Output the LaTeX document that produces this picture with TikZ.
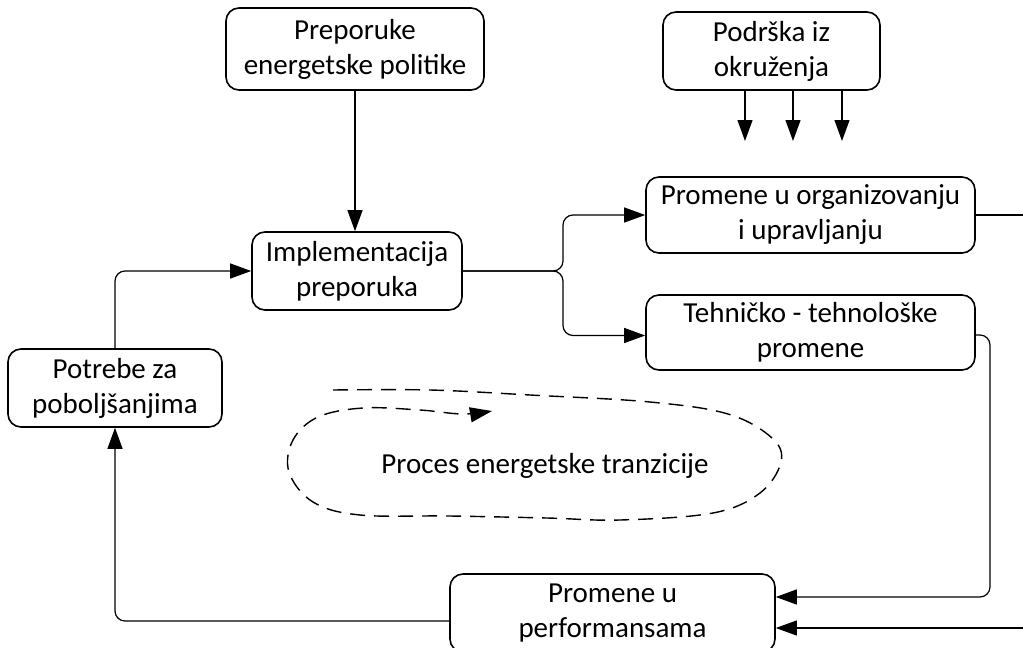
\documentclass[tikz,border=0pt]{standalone}
\usepackage{fontspec}
\setmainfont{Carlito}
\usetikzlibrary{arrows.meta}
\begin{document}
\begin{tikzpicture}[x=1pt,y=-1pt,
 box/.style={draw,line width=1.6pt,rounded corners=13pt,align=center,inner sep=0pt,font=\fontsize{29}{35}\selectfont},
 conn/.style={line width=1.2pt,rounded corners=10pt},
 arr/.style={conn,-{Triangle[length=21pt,width=15pt]}},
 loop/.style={line width=1.4pt,dash pattern=on 15pt off 9pt,-{Triangle[length=22pt,width=15pt]}},
]
\useasboundingbox (0,0) rectangle (1023,648);
\node[box,minimum width=258pt,minimum height=82pt] (prep) at (355,49) {Preporuke\\energetske politike};
\node[box,minimum width=217pt,minimum height=78pt] (podr) at (771.5,51) {Podrška iz\\okruženja};
\node[box,minimum width=329pt,minimum height=76pt] (org) at (810.5,215) {Promene u organizovanju\\i upravljanju};
\node[box,minimum width=329pt,minimum height=75pt] (teh) at (810.5,332.5) {Tehničko - tehnološke\\promene};
\node[box,minimum width=210pt,minimum height=78pt] (impl) at (357,271) {Implementacija\\preporuka};
\node[box,minimum width=214pt,minimum height=78pt] (potr) at (115,388) {Potrebe za\\poboljšanjima};
\node[box,minimum width=325pt,minimum height=78pt] (perf) at (612.5,613) {Promene u\\performansama};
\node[font=\fontsize{29}{35}\selectfont,inner sep=0pt] (proc) at (545,466) {Proces energetske tranzicije};

% arrows from support box
\coordinate (s1) at (745,141);
\coordinate (s2) at (793,141);
\coordinate (s3) at (842,141);
\draw[arr] (s1 |- podr.south) -- (s1);
\draw[arr] (s2 |- podr.south) -- (s2);
\draw[arr] (s3 |- podr.south) -- (s3);

% policy -> implementation
\draw[arr] (prep.south) -- (prep.south |- impl.north);

% implementation -> branches
\coordinate (j) at (563,271);
\draw[arr] (impl.east) -- (j) |- (org.west);
\draw[arr] (impl.east) -- (j) |- ([yshift=-3pt]teh.west);

% organisation -> off right edge
\coordinate (oe) at (1023,215);
\draw[conn] (org.east) -- (oe);
\coordinate (pe) at (1023,628);
\draw[arr] (pe) -- (perf.east |- pe);

% technical -> performance
\coordinate (tr) at (990,335);
\draw[arr] ([yshift=-2.5pt]teh.east) -- (tr) |- (perf.east |- 0,597);

% performance -> needs
\draw[arr] ([yshift=-8pt]perf.west) -| (potr.south);

% needs -> implementation
\draw[arr] (potr.north) |- (impl.west);

% dashed process loop
\draw[loop] plot[smooth,tension=0.6] coordinates {
 (333,390) (430,390) (530,395) (650,402) (728,414) (772,438) (781,462) (760,493) (713,513)
 (620,520) (547,518) (450,516) (360,515) (313,502) (289,472) (293,440) (318,417) (363,408)
 (420,410) (462,414) (492,411)};
\end{tikzpicture}
\end{document}
